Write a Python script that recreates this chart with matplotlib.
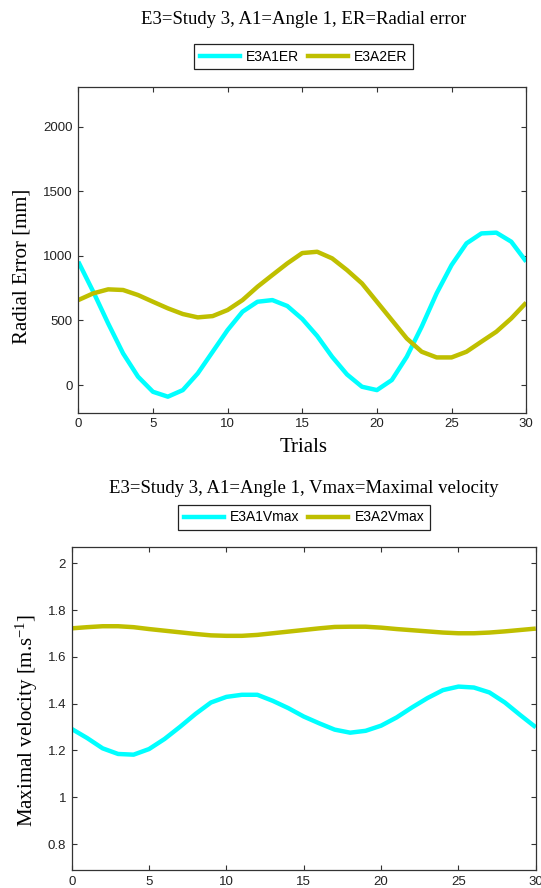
import numpy as np
import matplotlib
matplotlib.use("Agg")
import matplotlib.pyplot as plt
from matplotlib.lines import Line2D

plt.rcParams['mathtext.fontset'] = 'custom'
plt.rcParams['mathtext.rm'] = 'Liberation Serif'
plt.rcParams['mathtext.it'] = 'Liberation Serif:italic'

# ---------------- data ----------------
trials = list(range(0, 31))

e3a1_er = [955, 723, 477, 245, 65, -52, -90, -39, 90, 258, 426, 568, 645, 658, 612,
           512, 380, 219, 82, -13, -39, 39, 219, 452, 710, 929, 1097, 1174, 1180, 1110, 956]
e3a2_er = [658, 710, 741, 736, 697, 645, 594, 550, 524, 534, 581, 658, 761, 852, 942,
           1022, 1032, 981, 890, 787, 645, 503, 361, 258, 214, 214, 258, 336, 413, 516, 638]

e3a1_vmax = [1.292, 1.253, 1.209, 1.185, 1.182, 1.206, 1.249, 1.301, 1.356, 1.405, 1.429,
             1.438, 1.438, 1.412, 1.381, 1.345, 1.316, 1.289, 1.276, 1.284, 1.306, 1.341,
             1.384, 1.424, 1.458, 1.473, 1.469, 1.448, 1.405, 1.351, 1.299]
e3a2_vmax = [1.722, 1.727, 1.731, 1.731, 1.727, 1.719, 1.712, 1.705, 1.698, 1.692, 1.690,
             1.690, 1.694, 1.701, 1.708, 1.715, 1.722, 1.728, 1.729, 1.729, 1.725, 1.719,
             1.714, 1.709, 1.704, 1.701, 1.701, 1.704, 1.709, 1.715, 1.721]

er_labels = ["E3A1ER", "E3A2ER"]
vmax_labels = ["E3A1Vmax", "E3A2Vmax"]
x_ticks = [0, 5, 10, 15, 20, 25, 30]
er_yticks = [0, 500, 1000, 1500, 2000]
vmax_yticks = [0.8, 1.0, 1.2, 1.4, 1.6, 1.8, 2.0]
vmax_yticklabels = ["0.8", "1", "1.2", "1.4", "1.6", "1.8", "2"]

title_top = "E3=Study 3, A1=Angle 1, ER=Radial error"
title_bot = "E3=Study 3, A1=Angle 1, Vmax=Maximal velocity"
ylabel_top = "Radial Error [mm]"
xlabel_top = "Trials"
ylabel_bot = "Maximal velocity [m.s$^{\\mathregular{-1}}$]"

# ---------------- style ----------------
CYAN = "#00FFFF"
OLIVE = "#BFBF00"
W, H = 541, 888
SERIF = ["Liberation Serif", "DejaVu Serif"]
SANS = ["Liberation Sans", "DejaVu Sans"]
LW = 3.2

fig = plt.figure(figsize=(W / 100, H / 100), dpi=100)


def fx(px):
    return px / W


def fy(py):
    return 1 - py / H


def style_axes(ax):
    ax.tick_params(direction='in', top=True, right=True, length=3.5, width=0.8,
                   labelsize=9.5, pad=4, color='#333333', labelcolor='#222222')
    for lab in ax.get_xticklabels() + ax.get_yticklabels():
        lab.set_family(SANS)
    for s in ax.spines.values():
        s.set_linewidth(0.9)
        s.set_color('#333333')


def draw(ax, y, color):
    ax.plot(trials, y, color=color, lw=LW, solid_capstyle='butt', solid_joinstyle='round')


# top axes
L1, R1, T1, B1 = 78.3, 526.2, 86.7, 412.7
ax1 = fig.add_axes([fx(L1), fy(B1), fx(R1 - L1), (B1 - T1) / H])
draw(ax1, e3a1_er, CYAN)
draw(ax1, e3a2_er, OLIVE)
ax1.set_xlim(0, 30)
ax1.set_ylim(-214, 2310)
ax1.set_xticks(x_ticks)
ax1.set_yticks(er_yticks)
style_axes(ax1)

# bottom axes
L2, R2, T2, B2 = 71.7, 535.8, 546.7, 870.0
ax2 = fig.add_axes([fx(L2), fy(B2), fx(R2 - L2), (B2 - T2) / H])
draw(ax2, e3a1_vmax, CYAN)
draw(ax2, e3a2_vmax, OLIVE)
ax2.set_xlim(0, 30)
ax2.set_ylim(0.689, 2.071)
ax2.set_xticks(x_ticks)
ax2.set_yticks(vmax_yticks)
ax2.set_yticklabels(vmax_yticklabels)
style_axes(ax2)

# titles / labels
fig.text(fx(304), fy(19.5), title_top, ha='center', va='center', family=SERIF, fontsize=13.5)
fig.text(fx(304), fy(488), title_bot, ha='center', va='center', family=SERIF, fontsize=13.5)
fig.text(fx(22), fy(266), ylabel_top, ha='center', va='center', rotation=90, family=SERIF, fontsize=15)
fig.text(fx(304), fy(448), xlabel_top, ha='center', va='center', family=SERIF, fontsize=15)
fig.text(fx(27), fy(720), ylabel_bot, ha='center', va='center', rotation=90, family=SERIF, fontsize=15)


def make_legend(labels, cx, cy):
    handles = [Line2D([], [], color=CYAN, lw=LW), Line2D([], [], color=OLIVE, lw=LW)]
    leg = fig.legend(handles, labels, loc='center', bbox_to_anchor=(fx(cx), fy(cy)),
                     ncol=2, frameon=True, fancybox=False, framealpha=1,
                     edgecolor='#222222', handlelength=2.9, handletextpad=0.45,
                     columnspacing=0.6, borderpad=0.4,
                     prop={'family': SANS, 'size': 10})
    leg.get_frame().set_linewidth(0.9)
    return leg


make_legend(er_labels, 303.7, 56.8)
make_legend(vmax_labels, 304, 517.4)

fig.savefig("out.png", dpi=100)
